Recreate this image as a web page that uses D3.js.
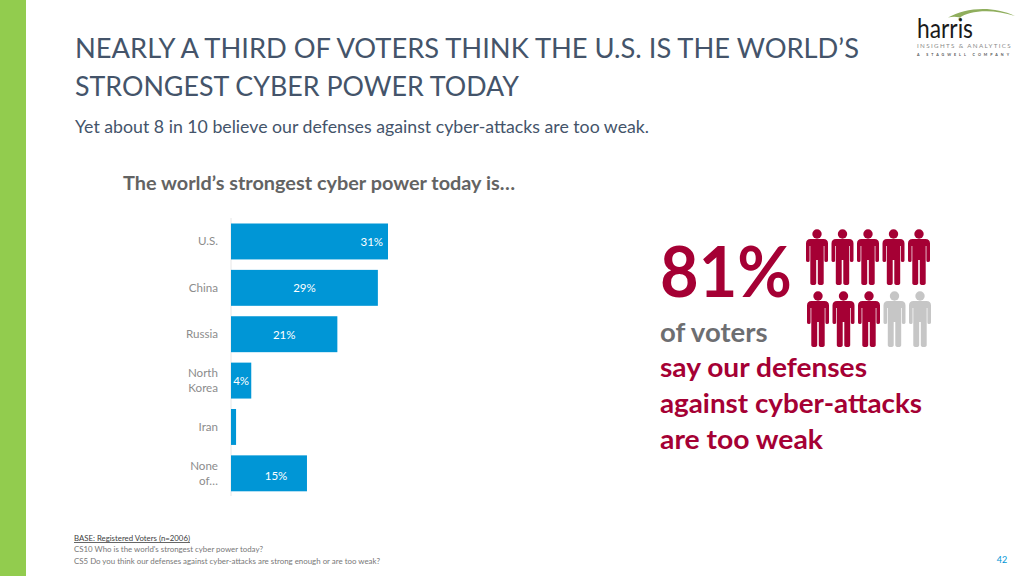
<!DOCTYPE html>
<html><head><meta charset="utf-8">
<script src="https://cdnjs.cloudflare.com/ajax/libs/d3/7.8.5/d3.min.js"></script>
<style>
html,body{margin:0;padding:0;background:#fff;}
svg{display:block;}
text{font-family:Lato,"Open Sans",sans-serif;}
</style></head><body><svg id="c" width="1024" height="576"></svg>
<script>
const titleLines = ["NEARLY A THIRD OF VOTERS THINK THE U.S. IS THE WORLD’S", "STRONGEST CYBER POWER TODAY"];
const subtitle = "Yet about 8 in 10 believe our defenses against cyber-attacks are too weak.";
const chartTitle = "The world’s strongest cyber power today is…";
const categories = [["U.S."], ["China"], ["Russia"], ["North", "Korea"], ["Iran"], ["None", "of…"]];
const values = [31, 29, 21, 4, 1, 15];
const valueLabels = ["31%", "29%", "21%", "4%", "", "15%"];
const calloutLines = ["say our defenses", "against cyber-attacks", "are too weak"];
const footnotes = ["CS10 Who is the world's strongest cyber power today?", "CS5 Do you think our defenses against cyber-attacks are strong enough or are too weak?"];
const peopleFilled = [1, 1, 1, 1, 1, 1, 1, 1, 0, 0];

const svg = d3.select("#c");
const txt = (x, y, s, size, fill, weight, anchor) => svg.append("text")
  .attr("x", x).attr("y", y).attr("font-size", size).attr("fill", fill)
  .attr("font-weight", weight || 400).attr("text-anchor", anchor || "start").text(s);
const fit = (sel, w) => sel.attr("textLength", w).attr("lengthAdjust", "spacingAndGlyphs");

svg.append("rect").attr("x", 0).attr("y", 0).attr("width", 26).attr("height", 576).attr("fill", "#92cc4e");

const titleWidths = [784, 444];
titleLines.forEach((l, i) => fit(txt(75, 58 + i * 38, l, 27.3, "#44546a"), titleWidths[i]));
fit(txt(75, 133, subtitle, 17, "#44546a"), 574);
fit(txt(123, 190, chartTitle, 19.2, "#636363", 700), 392);

// chart
const x = d3.scaleLinear().domain([0, 31]).range([231, 388]);
const y = d3.scaleBand().domain(d3.range(categories.length)).range([218.4, 496.4]).paddingInner(0.225).paddingOuter(0.11);
svg.append("line").attr("x1", 231).attr("x2", 231).attr("y1", 218).attr("y2", 496).attr("stroke", "#e6e6e6");
svg.selectAll("rect.bar").data(values).join("rect").attr("class", "bar")
  .attr("x", x(0)).attr("y", (d, i) => y(i)).attr("width", d => x(d) - x(0)).attr("height", y.bandwidth())
  .attr("fill", "#0096d6");
const labelCenters = [27.8, 14.5, 10.5, 2, 0, 8.9];
const labelDrop = [0, 0.3, 0.3, 0, 0, 2.7];
svg.selectAll("text.val").data(values).join("text").attr("class", "val")
  .attr("x", (d, i) => x(labelCenters[i])).attr("y", (d, i) => y(i) + y.bandwidth() / 2 + 4.2 + labelDrop[i])
  .attr("text-anchor", "middle").attr("font-size", 11.5).attr("fill", "#fff").text((d, i) => valueLabels[i]);
categories.forEach((c, i) => {
  const cy = y(i) + y.bandwidth() / 2;
  c.forEach((l, j) => txt(218, cy + 4 + (j - (c.length - 1) / 2) * 15.5, l, 11.6, "#8c8c8c", 400, "end"));
});

// callout
fit(txt(660, 297, "81%", 70, "#a50034", 700), 132);
txt(660, 342, "of voters", 27.5, "#6d6e71", 700);
const calloutWidths = [207, 262, 163];
calloutLines.forEach((l, i) => fit(txt(660, 377 + i * 36, l, 27.5, "#a50034", 700), calloutWidths[i]));

// people icons
const col = d3.scalePoint().domain(d3.range(5)).range([817, 919]);
const row = d3.scalePoint().domain([0, 1]).range([229, 291]);
const body = "M-6.5,10 H6.5 Q11,10 11,14.5 V31.5 Q11,33 9,33 Q7.4,33 7.4,31.5 V17 H6.7 V54 Q6.7,56 3.8,56 Q0.8,56 0.8,54 V31 H-0.8 V54 Q-0.8,56 -3.8,56 Q-6.7,56 -6.7,54 V17 H-7.4 V31.5 Q-7.4,33 -9,33 Q-11,33 -11,31.5 V14.5 Q-11,10 -6.5,10 Z";
const p = svg.selectAll("g.p").data(peopleFilled).join("g").attr("class", "p")
  .attr("transform", (d, i) => `translate(${col(i % 5) + (i >= 5 ? 1 : 0)},${row(i >= 5 ? 1 : 0)})`)
  .attr("fill", d => d ? "#a50034" : "#c6c6c6");
p.append("circle").attr("cx", 0).attr("cy", 5).attr("r", 4.7);
p.append("path").attr("d", body);

// footer
const base = txt(74, 541, "BASE: Registered Voters (n=2006)", 8, "#404040");
base.attr("text-decoration", "underline");
fit(base, 116);
const footWidths = [189, 306];
footnotes.forEach((l, i) => fit(txt(74, 552 + i * 11.5, l, 8, "#777777"), footWidths[i]));
txt(1002, 563, "42", 9, "#0096d6", 400, "middle");

// logo
svg.append("path").attr("d", "M948,17.5 C965,8 992,5 1015,16 C992,8 968,11 960,17.5 C955,16.5 952,16.8 948,17.5 Z").attr("fill", "#8fae5d");
svg.append("circle").attr("cx", 960).attr("cy", 19).attr("r", 1.6).attr("fill", "#8fae5d");
fit(txt(917, 38, "harris", 26, "#1a1a1a", 400), 56);
fit(txt(917, 48, "INSIGHTS & ANALYTICS", 5.8, "#8a8a8a").attr("letter-spacing", 1.25), 95);
fit(txt(917, 55.5, "A STAGWELL COMPANY", 3.8, "#555555", 700).attr("letter-spacing", 3.1), 95);
</script></body></html>
